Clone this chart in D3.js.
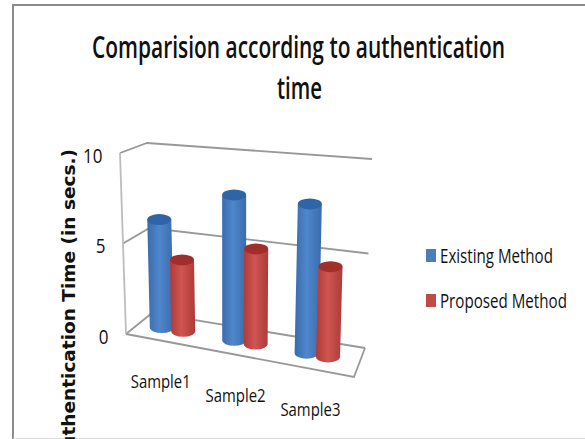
<!DOCTYPE html>
<html>
<head>
<meta charset="utf-8">
<script src="https://cdn.jsdelivr.net/npm/d3@7"></script>
<style>
  html, body { margin: 0; padding: 0; background: #fff; overflow: hidden; }
  svg { display: block; }
  text { fill: #111; }
</style>
</head>
<body>
<script>
// Chart data
const categories = ['Sample1', 'Sample2', 'Sample3'];
const seriesNames = ['Existing Method', 'Proposed Method'];
const existingValues = [6.1, 8, 8];
const proposedValues = [4, 5.2, 4.8];
const yTicks = [0, 5, 10];

const w = 585;
const h = 439;
const narrow = '"Open Sans", "Noto Sans", sans-serif';

const svg = d3.select('body').append('svg').attr('width', w).attr('height', h);
const defs = svg.append('defs');

// Box corners on screen: [value 0, value 10]
const box = {
  fl: [[126, 334], [120, 153]],
  bl: [[152, 313], [147, 143]],
  br: [[365, 348], [372, 159]],
  fr: [[354, 377], [361, 186]]
};

const yScale = d3.scaleLinear().domain([0, 10]).range([0, 1]);
const x0 = d3.scaleBand().domain(categories).range([-0.012, 0.973]);
const x1 = d3.scaleBand().domain(seriesNames).range([0.067, 0.261]);

// u along the floor, value, d depth (0 front, 1 back)
function project(u, value, d) {
  const v = yScale(value);
  const at = c => [c[0][0] + (c[1][0] - c[0][0]) * v, c[0][1] + (c[1][1] - c[0][1]) * v];
  const fl = at(box.fl), bl = at(box.bl), br = at(box.br), fr = at(box.fr);
  const front = [fl[0] + (fr[0] - fl[0]) * u, fl[1] + (fr[1] - fl[1]) * u];
  const back = [bl[0] + (br[0] - bl[0]) * u, bl[1] + (br[1] - bl[1]) * u];
  return [front[0] + (back[0] - front[0]) * d, front[1] + (back[1] - front[1]) * d];
}

// Squeeze a text sideways to a given width, Calibri is narrower than what we have
function fitWidth(sel, x, y, width) {
  const natural = sel.node().getComputedTextLength();
  sel.attr('transform', `translate(${x},${y}) scale(${width / natural},1)`);
}

// Page frame
svg.append('path')
  .attr('d', `M13,${h} V5 H${w}`)
  .attr('fill', 'none')
  .attr('stroke', '#8c8c8c')
  .attr('stroke-width', 2);
svg.append('line')
  .attr('x1', 13).attr('x2', w).attr('y1', 438.5).attr('y2', 438.5)
  .attr('stroke', '#dcdcdc');

// Title
const title1 = svg.append('text').attr('text-anchor', 'middle')
  .attr('font-family', narrow).attr('font-size', 30).attr('font-weight', 600)
  .text('Comparision according to authentication');
fitWidth(title1, 298.5, 58, 413);
const title2 = svg.append('text').attr('text-anchor', 'middle')
  .attr('font-family', narrow).attr('font-size', 30).attr('font-weight', 600)
  .text('time');
fitWidth(title2, 299.5, 99, 45);

// Y axis title, runs off the bottom of the page like the source image
svg.append('text')
  .attr('transform', 'translate(75,149) rotate(-90)')
  .attr('text-anchor', 'end')
  .attr('font-family', '"DejaVu Sans", sans-serif')
  .attr('font-size', 18.5)
  .attr('font-weight', 700)
  .text('Authentication Time (in secs.)');

// Walls and floor
const grid = svg.append('g').attr('fill', 'none').attr('stroke', '#989898').attr('stroke-width', 1.8);
const line = d3.line();
yTicks.forEach(t => {
  grid.append('path').attr('d', line([project(0, t, 0), project(0, t, 1), project(1, t, 1)]));
});
grid.append('path').attr('d', line([project(0, 0, 0), project(0, 10, 0)])).attr('stroke', '#bdbdbd');
grid.append('path').attr('d', line([project(0, 0, 0), project(1, 0, 0), project(1, 0, 1)]));

// Y tick labels
svg.selectAll('.tick-label')
  .data(yTicks)
  .enter()
  .append('text')
  .attr('class', 'tick-label')
  .attr('text-anchor', 'end')
  .attr('font-family', narrow)
  .attr('font-size', 20)
  .attr('fill', '#222')
  .attr('transform', d => {
    const p = project(0, d, 0);
    return `translate(${p[0] - 17.5},${p[1] + 9.5}) scale(0.85,1)`;
  })
  .text(d => d);

// Cylinder shading
function gradient(id, edge, mid) {
  const g = defs.append('linearGradient').attr('id', id);
  g.append('stop').attr('offset', '0%').attr('stop-color', edge);
  g.append('stop').attr('offset', '45%').attr('stop-color', mid);
  g.append('stop').attr('offset', '100%').attr('stop-color', edge);
}
gradient('blue-body', '#3a6cab', '#4f86cc');
gradient('red-body', '#ae3a37', '#cf5552');

const seriesStyle = [
  { body: 'url(#blue-body)', top: '#2f64a6', swatch: '#4a7ebb' },
  { body: 'url(#red-body)', top: '#a02f2c', swatch: '#be4b48' }
];

const bars = [];
categories.forEach((c, i) => {
  bars.push({ cat: c, s: 0, value: existingValues[i] });
  bars.push({ cat: c, s: 1, value: proposedValues[i] });
});

const rx = 12;
const ry = 5.5;
bars.forEach(b => {
  const u = x0(b.cat) + x1(seriesNames[b.s]) + x1.bandwidth() / 2;
  const base = project(u, 0, 0.5);
  const top = project(u, b.value, 0.5);
  const g = svg.append('g').attr('class', 'bar');
  g.append('path')
    .attr('fill', seriesStyle[b.s].body)
    .attr('d', `M${top[0] - rx},${top[1]} L${base[0] - rx},${base[1]} A${rx},${ry} 0 0 0 ${base[0] + rx},${base[1]} L${top[0] + rx},${top[1]} Z`);
  g.append('ellipse')
    .attr('cx', top[0]).attr('cy', top[1]).attr('rx', rx).attr('ry', ry)
    .attr('fill', seriesStyle[b.s].top);
});

// Category labels
svg.selectAll('.cat-label')
  .data(categories)
  .enter()
  .append('text')
  .attr('class', 'cat-label')
  .attr('text-anchor', 'middle')
  .attr('font-family', narrow)
  .attr('font-size', 18)
  .attr('fill', '#222')
  .text(d => d)
  .each(function(d) {
    const p = project(x0(d) + x0.bandwidth() / 2, 0, 0);
    fitWidth(d3.select(this), p[0], p[1] + 47, 60);
  });

// Legend
const legendY = d3.scalePoint().domain(seriesNames).range([263, 308]);
const legendWidth = d3.scaleOrdinal().domain(seriesNames).range([113, 127]);
const legend = svg.selectAll('.legend')
  .data(seriesNames)
  .enter()
  .append('g')
  .attr('class', 'legend');
legend.append('rect')
  .attr('x', 426).attr('y', d => legendY(d) - 14)
  .attr('width', 10).attr('height', 13)
  .attr('fill', (d, i) => seriesStyle[i].swatch);
legend.append('text')
  .attr('font-family', narrow).attr('font-size', 20)
  .attr('fill', '#222')
  .text(d => d)
  .each(function(d) {
    fitWidth(d3.select(this), 440, legendY(d), legendWidth(d));
  });
</script>
</body>
</html>
